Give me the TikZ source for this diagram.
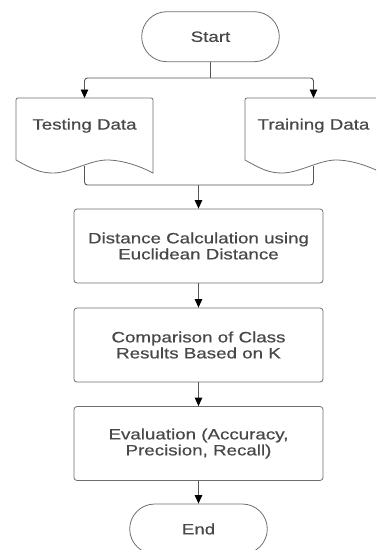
\documentclass[tikz,border=0pt]{standalone}
\usepackage{fontspec}
\setmainfont{Liberation Sans}[FakeStretch=1.25,FakeBold=0.6]
\usetikzlibrary{arrows.meta,shapes.misc}
\definecolor{txt}{HTML}{484848}
\definecolor{edge}{HTML}{6E6E6E}
\definecolor{ln}{HTML}{555555}
\tikzset{
  lbl/.style={text=txt,font=\fontsize{15}{16}\selectfont,align=center,inner sep=0pt},
  proc/.style={lbl,draw=edge,line width=0.8pt,rounded corners=3pt,minimum width=249pt,minimum height=74pt},
  term/.style={lbl,draw=edge,line width=0.8pt,rounded rectangle,minimum width=137.6pt,minimum height=50pt},
  docbox/.style={lbl,minimum width=137pt,minimum height=55pt,anchor=north},
  docline/.style={draw=edge,line width=0.8pt},
  conn/.style={draw=ln,line width=0.9pt,rounded corners=3pt},
  arr/.style={conn,-{Triangle[width=7.5pt,length=8.5pt,color=black]}}
}
\begin{document}
\begin{tikzpicture}[x=1pt,y=-1pt]
\useasboundingbox (0,0) rectangle (376,550);
\clip (0,0) rectangle (376,550);
% document shapes
\foreach \dx in {0,229}{
\begin{scope}[xshift=\dx pt]
\draw[docline] (16,160) [rounded corners=2pt] -- (16,98) -- (153,98) [sharp corners] -- (153,173)
  .. controls (140,166) and (122,160) .. (107,160)
  .. controls (90,160) and (70,173) .. (53,173)
  .. controls (40,173) and (32,169) .. (16,160) -- cycle;
\end{scope}}
\node[term] (start) at (210.5,36.7) {Start};
\node[docbox] (test) at (84.5,98) {Testing Data};
\node[docbox] (train) at (313.5,98) {Training Data};
\node[proc] (b1) at (198.5,246) {Distance Calculation using\\Euclidean Distance};
\node[proc] (b2) at (198.5,345) {Comparison of Class\\Results Based on K};
\node[proc] (b3) at (198.5,443.5) {Evaluation (Accuracy,\\Precision, Recall)};
\node[term] (end) at (198.5,529) {End};
\coordinate (split) at (210.5,78);
\coordinate (testbot) at (84.5,166);
\coordinate (trainbot) at (313.5,166);
\coordinate (merge) at (198.5,185);
\draw[conn] (start.south) -- (split);
\draw[arr] (split) -| (test.north);
\draw[arr] (split) -| (train.north);
\draw[conn] (testbot) |- (merge);
\draw[conn] (trainbot) |- (merge);
\draw[arr] (merge) -- (b1.north);
\draw[arr] (b1) -- (b2);
\draw[arr] (b2) -- (b3);
\draw[arr] (b3) -- (end);
\end{tikzpicture}
\end{document}
